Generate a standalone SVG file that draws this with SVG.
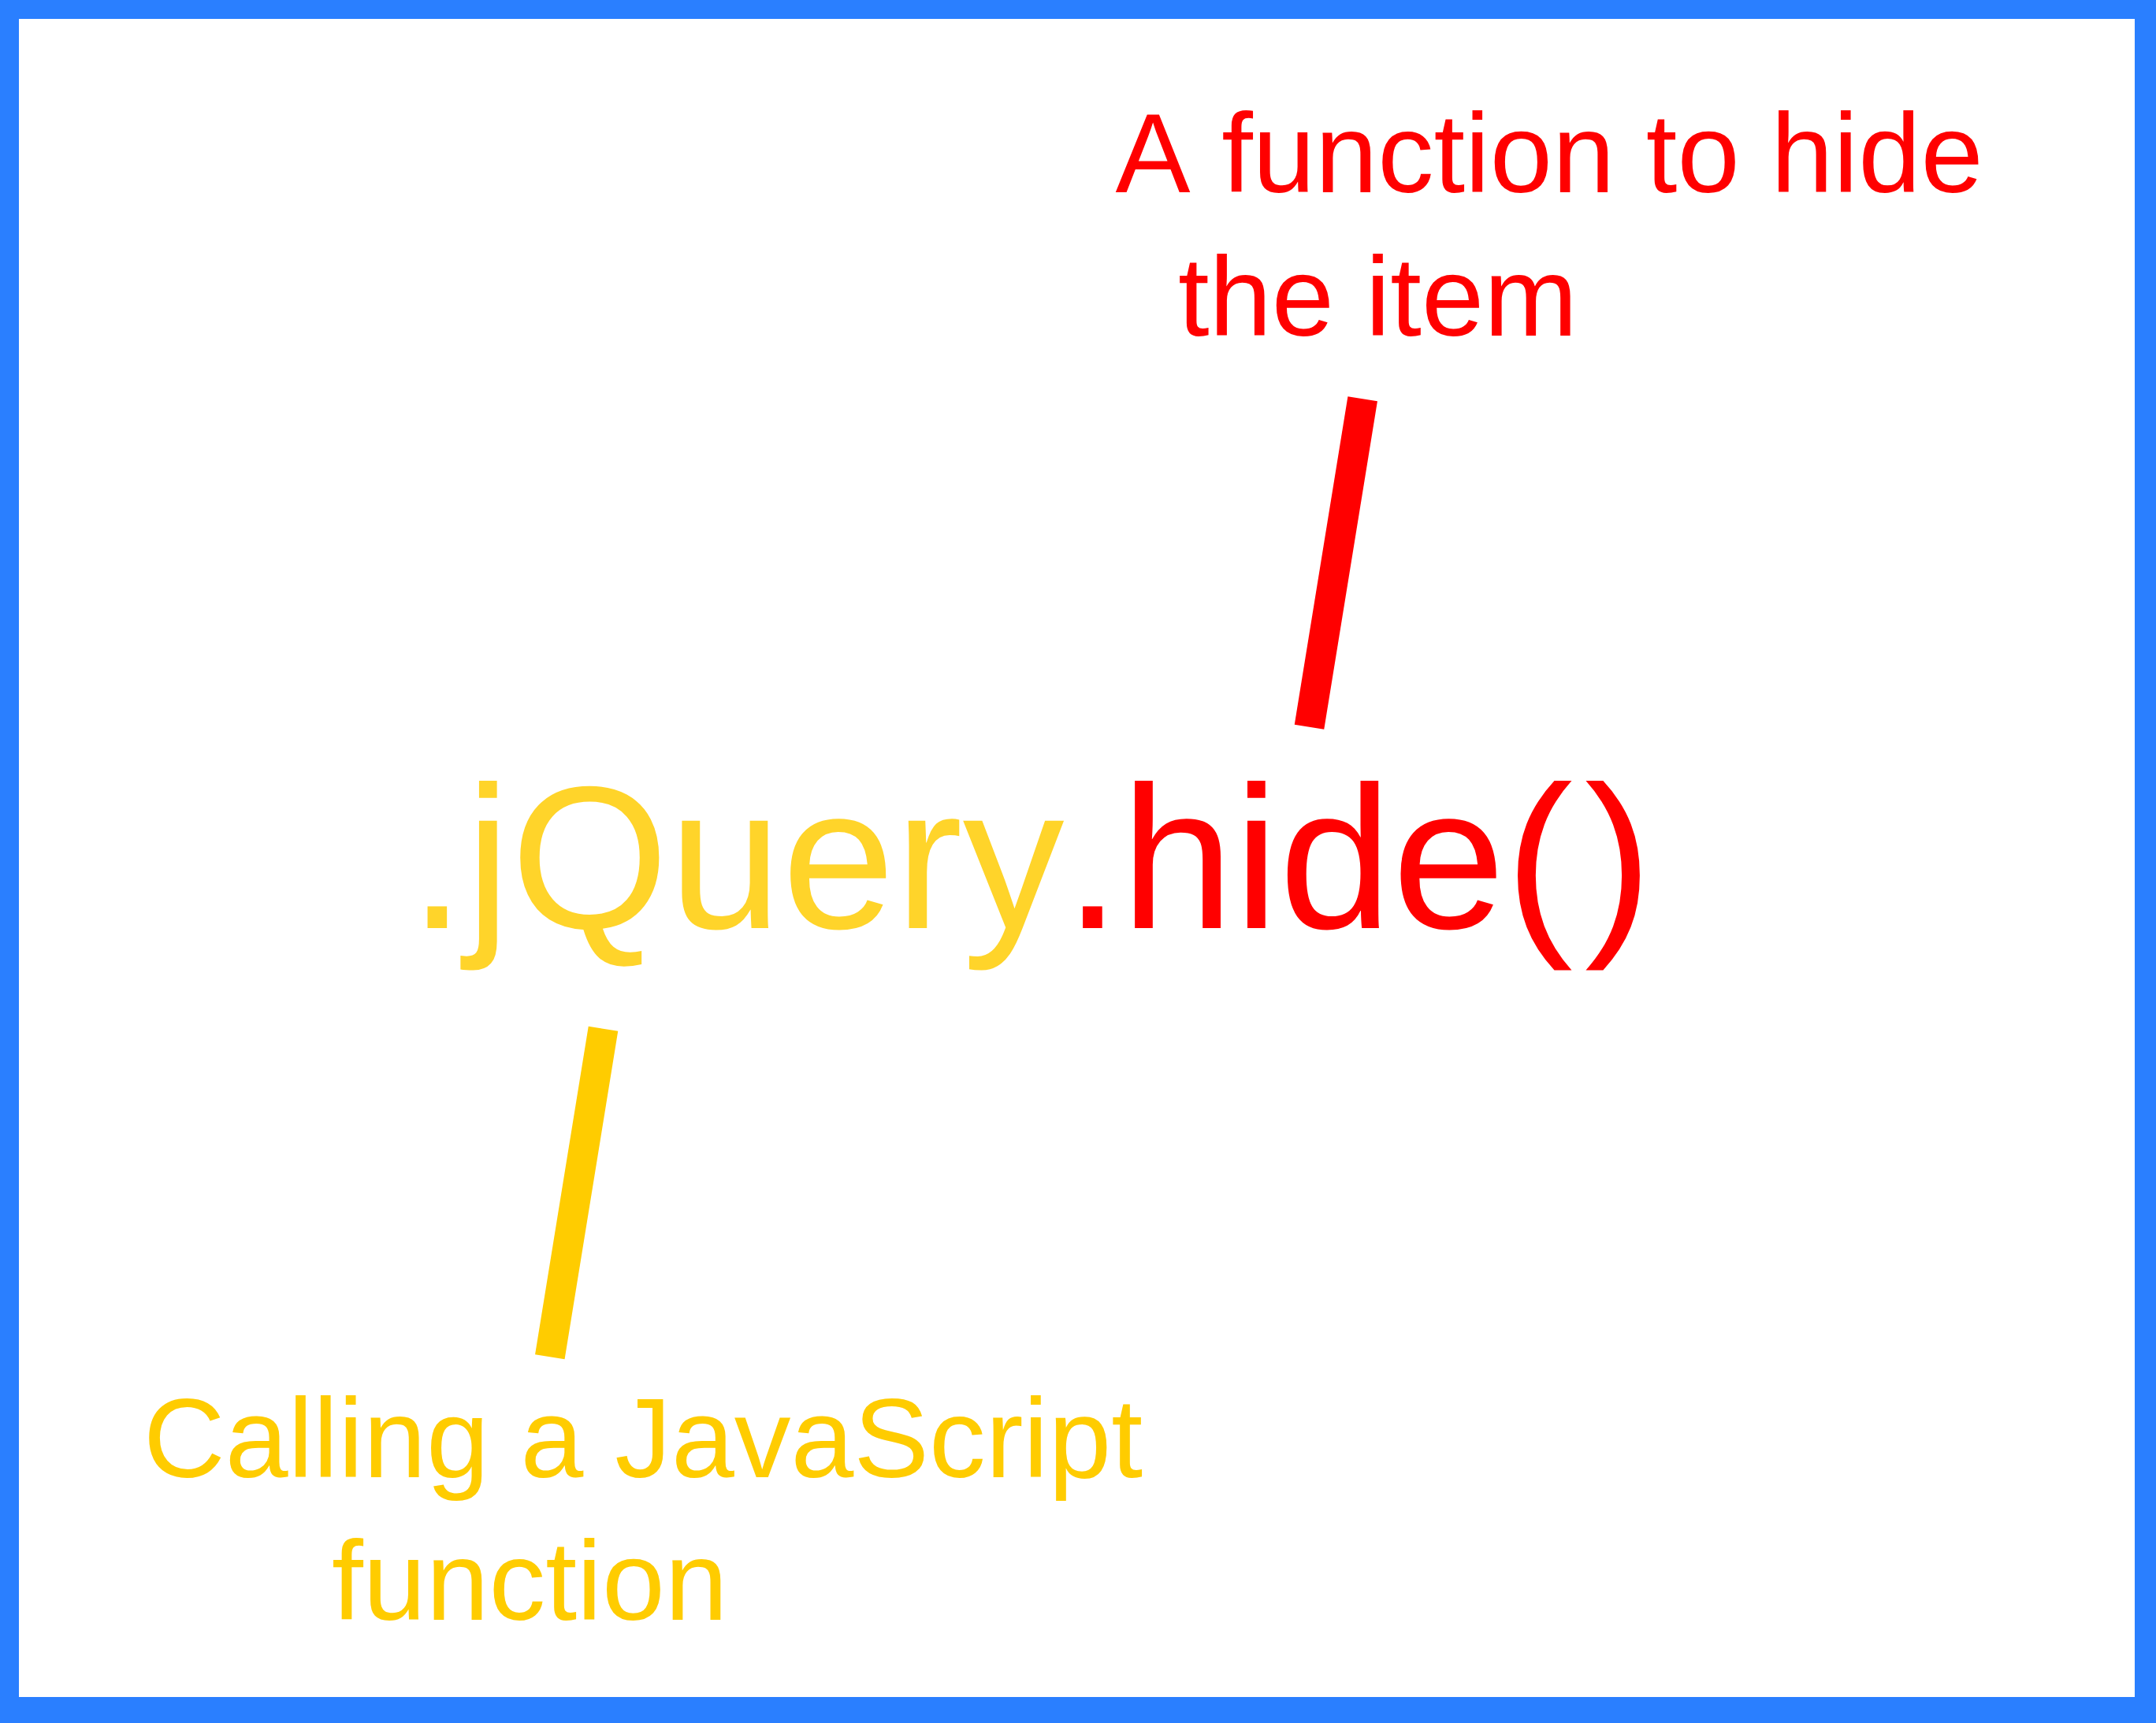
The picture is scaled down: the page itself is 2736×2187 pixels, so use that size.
<svg xmlns="http://www.w3.org/2000/svg" width="2736" height="2187" viewBox="0 0 2736 2187">
  <style>
    .lbl { font-family: "Liberation Sans", Arial, sans-serif; font-kerning: none; font-variant-ligatures: none; }
    .red { fill: #FF0000; }
    .yel { fill: #FFCC00; }
    .main-y { fill: #FFD42A; }
    .bar { fill: none; stroke-width: 38; stroke-linecap: butt; }
  </style>
  <g id="frame">
    <rect x="0" y="0" width="2736" height="2187" fill="#2A7FFF"/>
    <rect x="24" y="24" width="2685" height="2130" fill="#FFFFFF"/>
  </g>
  <g id="code">
    <text class="lbl" x="519" y="1178" font-size="258"><tspan class="main-y">.jQuery</tspan><tspan class="red">.hide(</tspan><tspan class="red" dx="15">)</tspan></text>
  </g>
  <g id="label-hide">
    <text class="lbl red" font-size="142.5"><tspan x="1415.5" y="244">A function to hide</tspan><tspan x="1495" y="425.7">the item</tspan></text>
  </g>
  <g id="label-call">
    <text class="lbl yel" font-size="143.5"><tspan x="182" y="1874.7">Calling a JavaScript</tspan><tspan x="421" y="2056">function</tspan></text>
  </g>
  <g id="connectors">
    <line class="bar" x1="1729.2" y1="506.2" x2="1661.5" y2="922.7" stroke="#FF0000"/>
    <line class="bar" x1="765.5" y1="1305.8" x2="697.8" y2="1722.3" stroke="#FFCC00"/>
  </g>
</svg>
